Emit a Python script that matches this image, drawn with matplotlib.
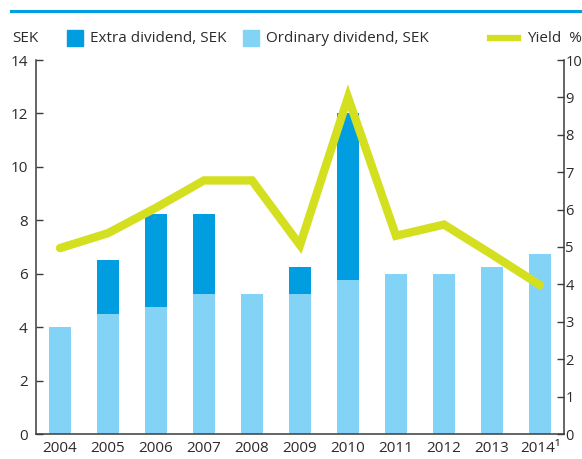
import matplotlib
matplotlib.use("Agg")
import matplotlib.pyplot as plt
import numpy as np
from matplotlib.patches import Rectangle
from matplotlib.lines import Line2D

plt.rcParams['font.family'] = ['Open Sans', 'DejaVu Sans']

# data
years = ['2004', '2005', '2006', '2007', '2008', '2009', '2010', '2011', '2012', '2013', '2014¹']
ordinary = [4.0, 4.5, 4.75, 5.25, 5.25, 5.25, 5.75, 6.0, 6.0, 6.25, 6.75]
extra = [0.0, 2.0, 3.5, 3.0, 0.0, 1.0, 6.25, 0.0, 0.0, 0.0, 0.0]
yield_pct = [4.97, 5.37, 6.05, 6.78, 6.78, 5.05, 9.0, 5.3, 5.6, 4.8, 3.98]

C_ORD = '#82d3f6'
C_EXTRA = '#009ee0'
C_YIELD = '#d4df1f'
C_AXIS = '#3c3c3c'
C_TEXT = '#2b2b2b'

fig = plt.figure(figsize=(5.82, 4.59), dpi=100)
ax = fig.add_axes([36 / 582, 25 / 459, 528 / 582, 374 / 459])
ax2 = ax.twinx()

x = np.arange(len(years))
ax.bar(x, ordinary, width=0.46, color=C_ORD, zorder=2)
ax.bar(x, extra, width=0.46, bottom=ordinary, color=C_EXTRA, zorder=2)
ax2.plot(x, yield_pct, color=C_YIELD, lw=6, solid_joinstyle='miter', solid_capstyle='round', zorder=3)

ax.set_xlim(-0.5, len(years) - 0.5)
ax.set_ylim(0, 14)
ax.set_yticks(range(0, 15, 2))
ax2.set_ylim(0, 10)
ax2.set_yticks(range(0, 11))
ax.set_xticks(x)
ax.set_xticklabels(years)

for a in (ax, ax2):
    a.spines['top'].set_visible(False)
    for s in ('left', 'right', 'bottom'):
        a.spines[s].set_color(C_AXIS)
        a.spines[s].set_linewidth(1.1)
ax.spines['right'].set_visible(False)
ax2.spines['left'].set_visible(False)
ax2.spines['bottom'].set_visible(False)

ax.tick_params(axis='y', direction='in', length=5, width=1, color=C_AXIS,
               labelsize=11, labelcolor=C_TEXT, pad=6)
ax2.tick_params(axis='y', direction='in', length=5, width=1, color=C_AXIS,
                labelsize=10.5, labelcolor=C_TEXT, pad=1)
ax.tick_params(axis='x', length=0, labelsize=11, labelcolor=C_TEXT, pad=5)
ax.set_zorder(ax2.get_zorder() - 1)
ax.patch.set_visible(False)

# top rule
fig.add_artist(Line2D([11 / 582, 1.0], [1 - 11 / 459] * 2, color=C_EXTRA, lw=2.2))

# legend row
ly = 1 - 38 / 459
fig.text(12 / 582, ly, 'SEK', fontsize=11, color=C_TEXT, va='center')
fig.add_artist(Rectangle((67 / 582, ly - 8 / 459), 16 / 582, 16 / 459, color=C_EXTRA))
fig.text(90 / 582, ly, 'Extra dividend, SEK', fontsize=11, color=C_TEXT, va='center')
fig.add_artist(Rectangle((243 / 582, ly - 8 / 459), 16 / 582, 16 / 459, color=C_ORD))
fig.text(266 / 582, ly, 'Ordinary dividend, SEK', fontsize=11, color=C_TEXT, va='center')
fig.add_artist(Line2D([490 / 582, 518 / 582], [ly, ly], color=C_YIELD, lw=4.5))
fig.text(527 / 582, ly, 'Yield  %', fontsize=11, color=C_TEXT, va='center')

fig.savefig('out.png', dpi=100)
